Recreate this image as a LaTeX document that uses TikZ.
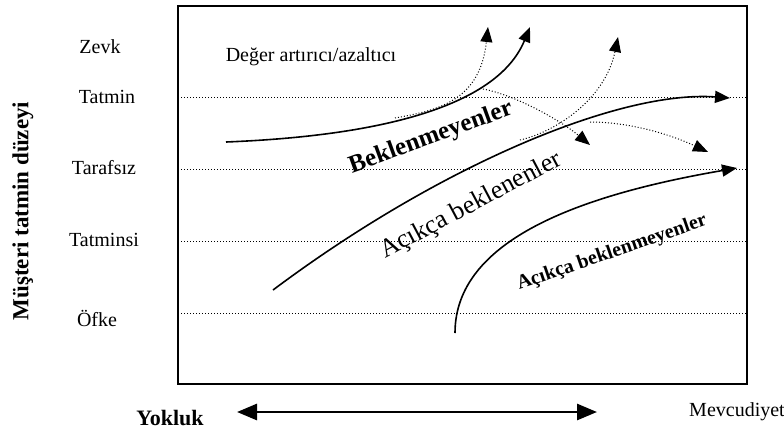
\documentclass[tikz,border=0pt]{standalone}
\usepackage{fontspec}
\setmainfont{Liberation Serif}
\usetikzlibrary{arrows.meta}

\begin{document}
\begin{tikzpicture}[x=1pt,y=-1pt,
    level/.style={font=\fontsize{20}{24}\selectfont},
    boldlabel/.style={font=\fontsize{22}{26}\selectfont\bfseries},
    guide/.style={line width=0.9pt,dash pattern=on 1pt off 2pt},
    flow/.style={line width=1.6pt,arrows = -{Triangle[length=15pt,width=12pt]}},
    hint/.style={line width=1pt,dash pattern=on 1pt off 2pt,arrows = -{Triangle[length=15pt,width=12pt]}}]

            %\draw [help lines] (0,0) grid (784,440);
            \useasboundingbox (0,0) rectangle (784,440);

            \draw[line width=1.8pt] (178,6) rectangle (747,384);
            \foreach \y in {97,169,241,313}
                \draw[guide] (178,\y) -- (747,\y);

            \path   (100,47)  node (zevk)     [level] {Zevk}
                    (107,97)  node (tatmin)   [level] {Tatmin}
                    (104,168) node (tarafsiz) [level] {Tarafsız}
                    (104,240) node (tatminsi) [level] {Tatminsi}
                    (97,318)  node (ofke)     [level] {Öfke}
                    (23,211)  node (duzey)    [boldlabel,font=\fontsize{23}{27}\selectfont\bfseries,rotate=90] {Müşteri tatmin düzeyi}
                    (170,418) node (yokluk)   [boldlabel] {Yokluk}
                    (737,412) node (mevcut)   [level] {Mevcudiyet}
                    (311,57)  node (deger)    [level] {Değer artırıcı/azaltıcı};

            \path   (431,138) node (bekl)     [inner sep=0pt,font=\fontsize{25}{29}\selectfont\bfseries,rotate=20] {Beklenmeyenler}
                    (471,206) node (acik)     [inner sep=0pt,font=\fontsize{26}{30}\selectfont,rotate=28] {Açıkça beklenenler}
                    (612,253) node (acikbekl) [inner sep=0pt,font=\fontsize{20}{24}\selectfont\bfseries,rotate=19] {Açıkça beklenmeyenler};

            \coordinate (b0) at (226,142);
            \coordinate (b1) at (530,27);
            \coordinate (a0) at (273,290);
            \coordinate (a1) at (730,98);
            \coordinate (c0) at (455,333);
            \coordinate (c1) at (737,168);
            \coordinate (l0) at (237,412);
            \coordinate (l1) at (597,412);

            \draw[flow] (b0) .. controls (400,135) and (500,100) .. (b1);
            \draw[flow] (a0) .. controls (440,165) and (620,90) .. (a1);
            \draw[flow] (c0) .. controls (455,240) and (580,195) .. (c1);

            \draw[hint] (395,118) .. controls (440,110) and (480,100) .. (488,27);
            \draw[hint] (483,89)  .. controls (515,95)  and (560,120) .. (590,145);
            \draw[hint] (520,140) .. controls (555,132) and (605,100) .. (618,37);
            \draw[hint] (590,122) .. controls (625,122) and (665,132) .. (708,152);

            \draw[line width=2.8pt,arrows = {Triangle[length=20pt,width=16pt]}-{Triangle[length=20pt,width=16pt]}] (l0) -- (l1);
        \end{tikzpicture}
\end{document}
